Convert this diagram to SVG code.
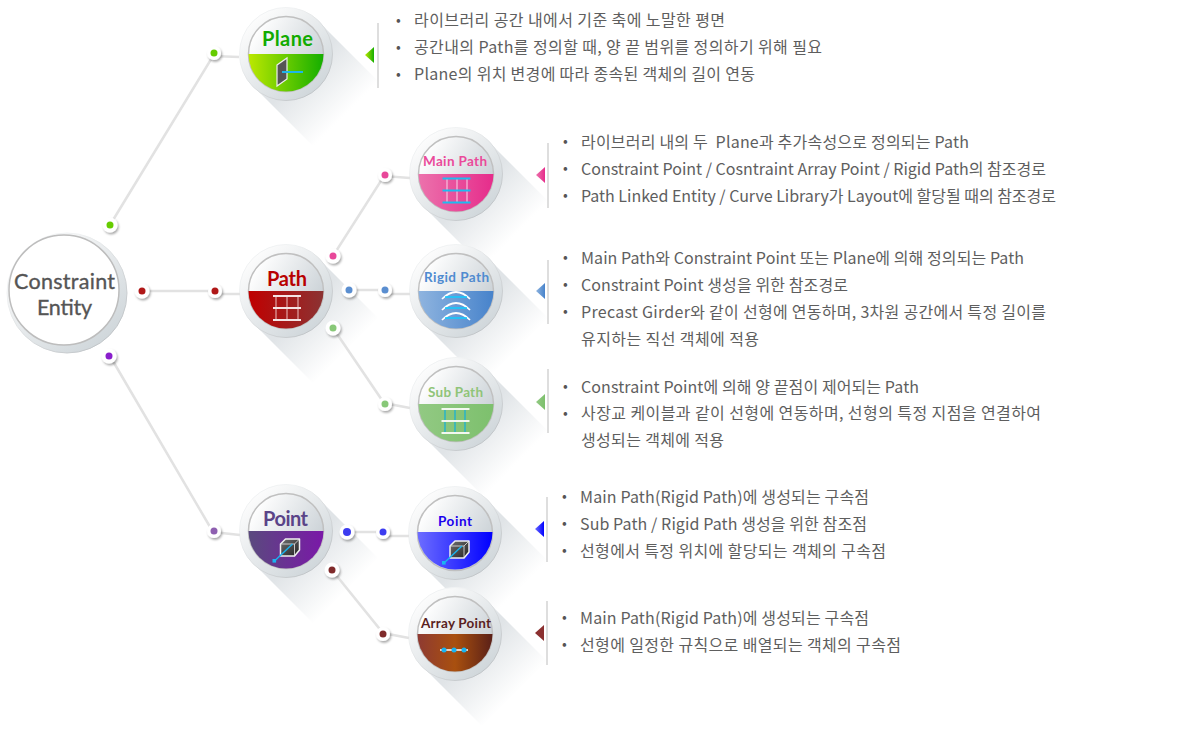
<svg xmlns="http://www.w3.org/2000/svg" width="1178" height="744" viewBox="0 0 1178 744">
<style>
text{font-family:"Noto Sans CJK KR","Noto Sans",sans-serif}
.t{font-size:16px;fill:#5e5e5e}
.b{font-size:14px;fill:#555}
.h{font-family:Lato,"Liberation Sans",sans-serif;font-weight:700}
.h1{font-size:20px}
.h2{font-size:13.5px}
.root{font-family:Lato,"Noto Sans",sans-serif;font-size:21.5px;font-weight:400;fill:#555;stroke:#555;stroke-width:0.35;text-anchor:middle}
.link{fill:none;stroke:#e2e2e2;stroke-width:2.5}
.rule{stroke:#c8c8c8;stroke-width:1.2}
</style>
<defs>
<linearGradient id="gShadow" gradientUnits="userSpaceOnUse" x1="18" y1="18" x2="60" y2="60"><stop offset="0" stop-color="#e0e4e7"/><stop offset="1" stop-color="#fff"/></linearGradient>
<linearGradient id="gRing" x1="0.15" y1="0.1" x2="0.85" y2="0.9"><stop offset="0" stop-color="#fdfdfd"/><stop offset="1" stop-color="#cfd6da"/></linearGradient>
<linearGradient id="gEdge" x1="0.15" y1="0.1" x2="0.85" y2="0.9"><stop offset="0.2" stop-color="#f0f2f3"/><stop offset="1" stop-color="#bfc3c6"/></linearGradient>
<linearGradient id="gTop" x1="0" y1="0" x2="1" y2="0.6"><stop offset="0.15" stop-color="#fff"/><stop offset="1" stop-color="#c9d0d5"/></linearGradient>
<linearGradient id="gPlane"><stop offset="0" stop-color="#bce800"/><stop offset="1" stop-color="#14ae00"/></linearGradient>
<linearGradient id="gPath"><stop offset="0" stop-color="#c00000"/><stop offset="1" stop-color="#8b3333"/></linearGradient>
<linearGradient id="gMain"><stop offset="0" stop-color="#ec72ac"/><stop offset="1" stop-color="#e62c8b"/></linearGradient>
<linearGradient id="gRigid"><stop offset="0" stop-color="#8fb4df"/><stop offset="1" stop-color="#4783cb"/></linearGradient>
<linearGradient id="gSub"><stop offset="0" stop-color="#92c983"/><stop offset="1" stop-color="#7dc06d"/></linearGradient>
<linearGradient id="gPointL"><stop offset="0" stop-color="#5a4a7e"/><stop offset="1" stop-color="#7a18a8"/></linearGradient>
<linearGradient id="gPointR"><stop offset="0" stop-color="#6d6dff"/><stop offset="1" stop-color="#0000ff"/></linearGradient>
<linearGradient id="gArray"><stop offset="0" stop-color="#8e3a32"/><stop offset="0.5" stop-color="#a9500f"/><stop offset="1" stop-color="#5a2018"/></linearGradient>
<linearGradient id="gCube" x1="0" y1="0" x2="1" y2="1"><stop offset="0" stop-color="#707070"/><stop offset="1" stop-color="#222"/></linearGradient>
<filter id="fDot" x="-50%" y="-50%" width="200%" height="200%"><feDropShadow dx="1.2" dy="1.8" stdDeviation="1.3" flood-color="#000" flood-opacity="0.35"/></filter>
<g id="ball">
<polygon points="32.5,-32.5 -32.5,32.5 37,102 102,37" fill="url(#gShadow)"/>
<circle r="46.5" fill="url(#gRing)" stroke="url(#gEdge)" stroke-width="1"/>
<circle r="37.5" fill="url(#gTop)" stroke="#c0c0c0" stroke-width="1.5"/>
</g>
<path id="half" d="M-37.5 0A37.5 37.5 0 0 0 37.5 0Z"/>
<g id="grid"><path d="M-14-12H14M-14 0H14M-14 12H14" stroke-width="1.8" fill="none"/></g>
<g id="cube">
<path d="M-9-3-4-8H10V3L5 9H-9Z" fill="url(#gCube)" stroke="#f0f0f0" stroke-width="1.5" stroke-linejoin="round"/>
<path d="M-9-3H5V9M5-3 10-8" fill="none" stroke="#e8e8e8" stroke-width="0.8"/>
<path d="M-15 14 3-3" stroke="#19b4f0" stroke-width="1.4"/>
<rect x="-17" y="12" width="3.6" height="3.6" fill="#19b4f0"/>
</g>
<g id="arcs" fill="none">
<path d="M-14 7Q0-7 14 7" stroke="#fff" stroke-width="1.7"/>
<path d="M-11 5H11" stroke="#10ccff" stroke-width="1.5"/>
</g>
</defs>

<g id="node-root">
<circle cx="67" cy="293" r="60" fill="url(#gRing)" stroke="url(#gEdge)"/>
<circle cx="64" cy="290" r="55" fill="#fff" stroke="#bdbdbd" stroke-width="1.5"/>
<text class="root" x="64.500" y="289" textLength="101">Constraint</text>
<text class="root" x="64.500" y="315" textLength="55">Entity</text>
</g>

<g id="node-plane" transform="translate(286 54)">
<use href="#ball"/><use href="#half" fill="url(#gPlane)"/>
<text class="h h1" x="-24" y="-8" fill="#12ab00" textLength="51">Plane</text>
<polygon points="-9,11 1,4 1,25 -9,32" fill="#555" stroke="#eee" stroke-width="1.2"/>
<path d="M-4 18H17" stroke="#1eb6e8" stroke-width="2"/>
</g>

<g id="node-path" transform="translate(286 291)">
<use href="#ball"/><use href="#half" fill="url(#gPath)"/>
<text class="h h1" x="-19" y="-5" fill="#b80000" textLength="40">Path</text>
<path d="M-10 5V29M1 5V29M12 5V29" stroke="#e3a5a5" stroke-width="1.2"/>
<use href="#grid" transform="translate(1 17)" stroke="#f4e4e4"/>
</g>

<g id="node-main-path" transform="translate(456 174)">
<use href="#ball"/><use href="#half" fill="url(#gMain)"/>
<text class="h h2" x="-33" y="-8" fill="#ea4a9a" textLength="64">Main Path</text>
<path d="M-9 5V28M1 5V28M11 5V28" stroke="#f6c0dc" stroke-width="1.2"/>
<use href="#grid" transform="translate(0.500 16.500)" stroke="#1cbcf0"/>
</g>

<g id="node-rigid-path" transform="translate(456 291)">
<use href="#ball"/><use href="#half" fill="url(#gRigid)"/>
<text class="h h2" x="-32" y="-9" fill="#4f8bd0" textLength="65">Rigid Path</text>
<use href="#arcs" transform="translate(0 1)"/><use href="#arcs" transform="translate(0 12)"/><use href="#arcs" transform="translate(0 22)"/>
</g>

<g id="node-sub-path" transform="translate(456 404)">
<use href="#ball"/><use href="#half" fill="url(#gSub)"/>
<text class="h h2" x="-28" y="-7" fill="#8fc478" textLength="55">Sub Path</text>
<path d="M-11 5V29M-1 5V29M9 5V29" stroke="#2fb4c4" stroke-width="1.6"/>
<use href="#grid" transform="translate(-0.500 17)" stroke="#f2f8f0"/>
</g>

<g id="node-point" transform="translate(286 531)">
<use href="#ball"/><use href="#half" fill="url(#gPointL)"/>
<text class="h h1" x="-23" y="-5" fill="#5a4488" textLength="45">Point</text>
<use href="#cube" transform="translate(3.500 16)"/>
</g>

<g id="node-point-sub" transform="translate(455 533)">
<use href="#ball"/><use href="#half" transform="translate(0 -1)" fill="url(#gPointR)"/>
<text class="h h2" x="-17" y="-7" fill="#1a00ee" textLength="34">Point</text>
<use href="#cube" transform="translate(4 16)"/>
</g>

<g id="node-array-point" transform="translate(455 634)">
<use href="#ball"/><use href="#half" fill="url(#gArray)"/>
<text class="h h2" x="-34" y="-6" fill="#5a1f1f" textLength="70">Array Point</text>
<path d="M-15 16H13" stroke="#fff" stroke-width="1.5"/>
<g fill="#19b4f0"><circle cx="-11" cy="16" r="2.500"/><circle cx="-1" cy="16" r="2.500"/><circle cx="9" cy="16" r="2.500"/></g>
</g>

<g id="connectors">
<polyline class="link" points="110,225 213,56 239,57"/>
<polyline class="link" points="142,291 215,291 218,294 240,294"/>
<polyline class="link" points="110,356 213,532 240,535"/>
<polyline class="link" points="333,256 384,176 410,178"/>
<polyline class="link" points="349,290 385,290 388,294 410,294"/>
<polyline class="link" points="333,328 384,403 410,408"/>
<polyline class="link" points="348,532 383,532 386,536 409,536"/>
<polyline class="link" points="332,570 383,633 409,638"/>
<g filter="url(#fDot)" fill="#fff">
<circle cx="110" cy="225" r="7.500"/><circle cx="142" cy="291" r="7.500"/><circle cx="109" cy="356" r="7.500"/>
<circle cx="214" cy="53" r="7"/><circle cx="215" cy="291" r="7"/><circle cx="214" cy="531" r="7"/>
<circle cx="333" cy="256" r="7.500"/><circle cx="349" cy="290" r="7.500"/><circle cx="333" cy="328" r="7.500"/>
<circle cx="385" cy="175" r="7"/><circle cx="385" cy="290" r="7"/><circle cx="385" cy="404" r="7"/>
<circle cx="347" cy="532" r="7.500"/><circle cx="332" cy="570" r="7.500"/>
<circle cx="383" cy="532" r="7"/><circle cx="383" cy="634" r="7"/>
</g>
<circle cx="110" cy="225" r="3.500" fill="#66cc00"/><circle cx="142" cy="291" r="3.500" fill="#b01818"/><circle cx="109" cy="356" r="3.500" fill="#8a1ecc"/>
<circle cx="214" cy="53" r="3.500" fill="#66cc00"/><circle cx="215" cy="291" r="3.500" fill="#b01818"/><circle cx="214" cy="531" r="3.500" fill="#8e5fb0"/>
<circle cx="333" cy="256" r="3.500" fill="#e8489a"/><circle cx="349" cy="290" r="3.500" fill="#5a8ed0"/><circle cx="333" cy="328" r="3.500" fill="#88c878"/>
<circle cx="385" cy="175" r="3.500" fill="#e8489a"/><circle cx="385" cy="290" r="3.500" fill="#5a8ed0"/><circle cx="385" cy="404" r="3.500" fill="#88c878"/>
<circle cx="347" cy="532" r="4" fill="#3c3cf0"/><circle cx="332" cy="570" r="3.500" fill="#7f2a2a"/>
<circle cx="383" cy="532" r="3.500" fill="#3c3cf0"/><circle cx="383" cy="634" r="3.500" fill="#7f2a2a"/>
</g>

<g id="text-plane">
<line class="rule" x1="378" y1="23" x2="378" y2="88"/>
<polygon points="365,55 374,47 374,63" fill="url(#gPlane)"/>
<text class="b" x="396" y="25">•</text><text class="b" x="396" y="52">•</text><text class="b" x="396" y="79">•</text>
<text class="t" x="414" y="26" textLength="311">라이브러리 공간 내에서 기준 축에 노말한 평면</text>
<text class="t" x="414" y="53" textLength="408">공간내의 Path를 정의할 때, 양 끝 범위를 정의하기 위해 필요</text>
<text class="t" x="414" y="80" textLength="341">Plane의 위치 변경에 따라 종속된 객체의 길이 연동</text>
</g>
<g id="text-main-path">
<line class="rule" x1="548" y1="143" x2="548" y2="208"/>
<polygon points="536,175 545,167 545,183" fill="url(#gMain)"/>
<text class="b" x="563" y="146">•</text><text class="b" x="563" y="173">•</text><text class="b" x="563" y="200">•</text>
<text class="t" x="581" y="148" textLength="388">라이브러리 내의 두&#160;&#160;Plane과 추가속성으로 정의되는 Path</text>
<text class="t" x="581" y="175" textLength="465">Constraint Point / Cosntraint Array Point / Rigid Path의 참조경로</text>
<text class="t" x="581" y="202" textLength="475">Path Linked Entity / Curve Library가 Layout에 할당될 때의 참조경로</text>
</g>
<g id="text-rigid-path">
<line class="rule" x1="548" y1="260" x2="548" y2="324"/>
<polygon points="536,291 545,283 545,299" fill="url(#gRigid)"/>
<text class="b" x="563" y="262">•</text><text class="b" x="563" y="289">•</text><text class="b" x="563" y="316">•</text>
<text class="t" x="581" y="264" textLength="443">Main Path와 Constraint Point 또는 Plane에 의해 정의되는 Path</text>
<text class="t" x="581" y="291" textLength="267">Constraint Point 생성을 위한 참조경로</text>
<text class="t" x="581" y="318" textLength="465">Precast Girder와 같이 선형에 연동하며, 3차원 공간에서 특정 길이를</text>
<text class="t" x="581" y="345" textLength="178">유지하는 직선 객체에 적용</text>
</g>
<g id="text-sub-path">
<line class="rule" x1="548" y1="369" x2="548" y2="433"/>
<polygon points="536,402 545,394 545,410" fill="url(#gSub)"/>
<text class="b" x="563" y="391">•</text><text class="b" x="563" y="418">•</text>
<text class="t" x="581" y="393" textLength="338">Constraint Point에 의해 양 끝점이 제어되는 Path</text>
<text class="t" x="581" y="419" textLength="460">사장교 케이블과 같이 선형에 연동하며, 선형의 특정 지점을 연결하여</text>
<text class="t" x="581" y="446" textLength="143">생성되는 객체에 적용</text>
</g>
<g id="text-point">
<line class="rule" x1="547" y1="497" x2="547" y2="562"/>
<polygon points="535,529 544,521 544,537" fill="url(#gPointR)"/>
<text class="b" x="562" y="501">•</text><text class="b" x="562" y="528">•</text><text class="b" x="562" y="555">•</text>
<text class="t" x="580" y="503" textLength="289">Main Path(Rigid Path)에 생성되는 구속점</text>
<text class="t" x="580" y="530" textLength="287">Sub Path / Rigid Path 생성을 위한 참조점</text>
<text class="t" x="580" y="557" textLength="306">선형에서 특정 위치에 할당되는 객체의 구속점</text>
</g>
<g id="text-array-point">
<line class="rule" x1="547" y1="601" x2="547" y2="665"/>
<polygon points="535,633 544,625 544,641" fill="#8b3030"/>
<text class="b" x="562" y="622">•</text><text class="b" x="562" y="649">•</text>
<text class="t" x="580" y="624" textLength="289">Main Path(Rigid Path)에 생성되는 구속점</text>
<text class="t" x="580" y="651" textLength="321">선형에 일정한 규칙으로 배열되는 객체의 구속점</text>
</g>
</svg>
